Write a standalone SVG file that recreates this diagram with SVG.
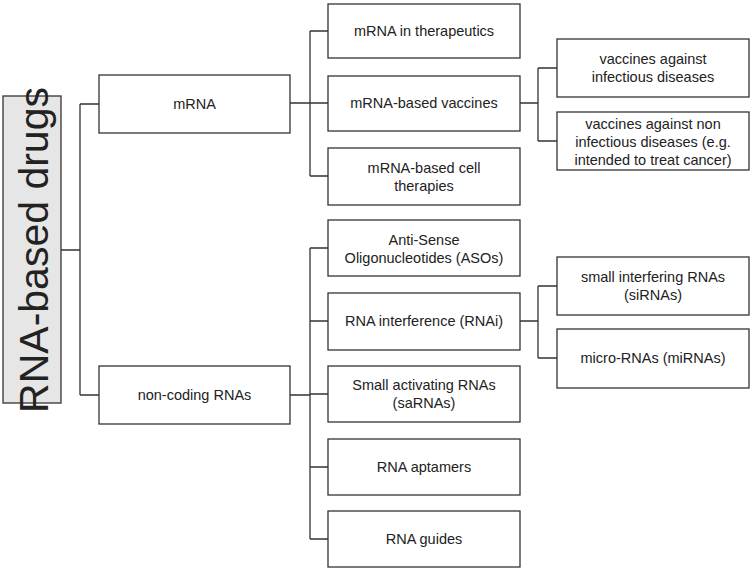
<svg xmlns="http://www.w3.org/2000/svg" width="752" height="572" viewBox="0 0 752 572">
<style>
rect{fill:#fff;stroke:#333;stroke-width:1.3}
#root rect{fill:#e6e6e6}
text{font-family:"Liberation Sans",Arial,sans-serif;font-size:14.5px;fill:#222;text-anchor:middle}
#connectors path{fill:none;stroke:#333;stroke-width:1.3}
</style>
<rect x="0" y="0" width="752" height="572" style="fill:#fff;stroke:none"/>
<g id="connectors">
<path d="M61 250H80M80 104V395M80 104H99M80 395H99"/>
<path d="M290 103H310M310 31V176M310 31H328M310 103H328M310 176H328"/>
<path d="M290 395H310M310 248V539M310 248H328M310 321H328M310 394H328M310 467H328M310 539H328"/>
<path d="M520 103H538M538 68V141M538 68H557M538 141H557"/>
<path d="M520 321H538M538 286V358M538 286H557M538 358H557"/>
</g>
<g id="root"><rect x="3" y="96" width="58" height="307"/><text transform="translate(48 250) rotate(-90)" style="font-size:41px">RNA-based drugs</text></g>
<g id="mrna"><rect x="99" y="75" width="191" height="58"/><text x="194.5" y="109">mRNA</text></g>
<g id="ncrna"><rect x="99" y="366" width="191" height="58"/><text x="194.5" y="400">non-coding RNAs</text></g>
<g id="ther"><rect x="328" y="4" width="192" height="54"/><text x="424" y="36">mRNA in therapeutics</text></g>
<g id="vacc"><rect x="328" y="76" width="192" height="55"/><text x="424" y="108">mRNA-based vaccines</text></g>
<g id="cell"><rect x="328" y="148" width="192" height="57"/><text x="424" y="173">mRNA-based cell</text><text x="424" y="191">therapies</text></g>
<g id="aso"><rect x="328" y="220" width="192" height="56"/><text x="424" y="245">Anti-Sense</text><text x="424" y="263">Oligonucleotides (ASOs)</text></g>
<g id="rnai"><rect x="328" y="293" width="192" height="57"/><text x="424" y="326">RNA interference (RNAi)</text></g>
<g id="sarna"><rect x="328" y="366" width="192" height="56"/><text x="424" y="390">Small activating RNAs</text><text x="424" y="408">(saRNAs)</text></g>
<g id="apt"><rect x="328" y="439" width="192" height="56"/><text x="424" y="472">RNA aptamers</text></g>
<g id="guide"><rect x="328" y="511" width="192" height="56"/><text x="424" y="544">RNA guides</text></g>
<g id="inf"><rect x="557" y="39" width="192" height="58"/><text x="653" y="64">vaccines against</text><text x="653" y="82">infectious diseases</text></g>
<g id="noninf"><rect x="557" y="112" width="192" height="58"/><text x="653" y="129">vaccines against non</text><text x="653" y="147">infectious diseases (e.g.</text><text x="653" y="165">intended to treat cancer)</text></g>
<g id="sirna"><rect x="557" y="257" width="192" height="58"/><text x="653" y="282">small interfering RNAs</text><text x="653" y="300">(siRNAs)</text></g>
<g id="mirna"><rect x="557" y="329" width="192" height="59"/><text x="653" y="363">micro-RNAs (miRNAs)</text></g>
</svg>
